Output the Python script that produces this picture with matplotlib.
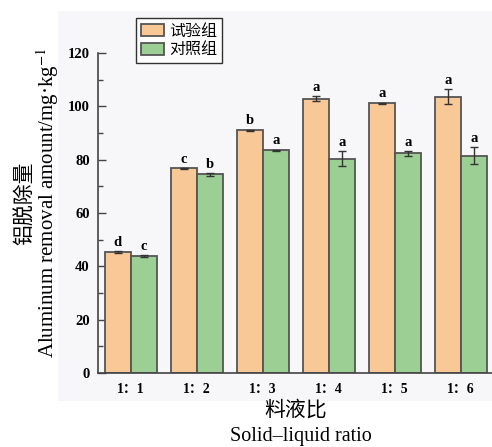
import matplotlib
matplotlib.use("Agg")
import matplotlib.pyplot as plt
from matplotlib.patches import Rectangle, Patch
import numpy as np

plt.rcParams['mathtext.fontset'] = 'stix'

categories = ["1：1", "1：2", "1：3", "1：4", "1：5", "1：6"]
exp_vals = [45.5, 76.7, 91.1, 102.9, 101.1, 103.6]
exp_err = [0.4, 0.3, 0.2, 1.0, 0.3, 2.9]
ctrl_vals = [43.9, 74.5, 83.5, 80.4, 82.4, 81.5]
ctrl_err = [0.3, 0.6, 0.3, 2.9, 0.9, 3.2]
exp_letters = ["d", "c", "b", "a", "a", "a"]
ctrl_letters = ["c", "b", "a", "a", "a", "a"]
legend_labels = ["试验组", "对照组"]

W, H = 492, 447
fig = plt.figure(figsize=(W / 100, H / 100), dpi=100)
fig.patch.set_facecolor("white")
fig.patches.append(Rectangle((58 / W, 1 - 401 / H), 1 - 58 / W, (401 - 11) / H,
                             transform=fig.transFigure, facecolor="#f7f7f9",
                             edgecolor="none", zorder=-5))

ax_l, ax_r = 98 / W, 1.0
ax_b = (H - 373) / H
ax_t = (H - 26.3) / H
ax = fig.add_axes([ax_l, ax_b, ax_r - ax_l, ax_t - ax_b])
ax.set_facecolor("none")
ax.set_zorder(1)

orange = "#f8c896"
green = "#9ccf94"
edge = "#555555"
x = np.arange(len(categories))
w = 0.4
ekw = dict(ecolor="#333333", elinewidth=1.0, capthick=1.0)
ax.bar(x - w / 2, exp_vals, w, yerr=exp_err, capsize=3, color=orange,
       edgecolor=edge, linewidth=1.3, error_kw=ekw, zorder=2)
ax.bar(x + w / 2, ctrl_vals, w, yerr=ctrl_err, capsize=3, color=green,
       edgecolor=edge, linewidth=1.3, error_kw=ekw, zorder=2)

lfont = dict(family="Liberation Serif", weight="bold", fontsize=10.5)
for i in range(len(categories)):
    ax.annotate(exp_letters[i], (x[i] - w / 2, exp_vals[i] + exp_err[i]),
                xytext=(0, 1.5), textcoords="offset points", ha="center",
                va="bottom", **lfont)
    ax.annotate(ctrl_letters[i], (x[i] + w / 2, ctrl_vals[i] + ctrl_err[i]),
                xytext=(0, 1.5), textcoords="offset points", ha="center",
                va="bottom", **lfont)

ax.set_xlim(-0.5, 5.47)
ax.set_ylim(0, 130)
ax.set_yticks(np.arange(0, 121, 20))
ax.set_yticks(np.arange(10, 120, 20), minor=True)
ax.set_xticks(x)
ax.set_xticklabels(categories)
ax.spines["top"].set_visible(False)
ax.spines["right"].set_visible(False)
for s in ("left", "bottom"):
    ax.spines[s].set_color("#444444")
    ax.spines[s].set_linewidth(1.2)
ax.spines["left"].set_bounds(0, 120)
ax.tick_params(axis="y", which="major", direction="in", length=6, width=1.0,
               color="#444444", pad=6)
ax.tick_params(axis="y", which="minor", direction="in", length=3.5, width=1.0,
               color="#444444")
ax.tick_params(axis="x", length=0, pad=7)
for lab in ax.get_yticklabels():
    lab.set_fontfamily("Liberation Serif")
    lab.set_fontweight("bold")
    lab.set_fontsize(10.5)
for lab in ax.get_xticklabels():
    lab.set_fontfamily(["Liberation Serif", "Noto Sans CJK SC"])
    lab.set_fontweight("bold")
    lab.set_fontsize(10)

handles = [Patch(facecolor=orange, edgecolor=edge, linewidth=1.3),
           Patch(facecolor=green, edgecolor=edge, linewidth=1.3)]
leg = fig.legend(handles, legend_labels, loc="upper left",
                 bbox_to_anchor=(136 / W, 1 - 18 / H), borderaxespad=0,
                 fancybox=False, frameon=True, handlelength=1.45,
                 handleheight=0.8, handletextpad=0.35, labelspacing=0.1,
                 borderpad=0.3, prop=dict(family="Noto Sans CJK SC", size=11.5))
leg.get_frame().set_edgecolor("black")
leg.get_frame().set_linewidth(1.0)
leg.get_frame().set_facecolor("white")
leg.set_zorder(5)

fig.text(25 / W, 1 - 203 / H, "铝脱除量", rotation=90, ha="center",
         va="center", family="Noto Sans CJK SC", fontsize=15)
fig.text(48 / W, 1 - 203 / H, "Aluminum removal amount/mg·kg$^{-1}$",
         rotation=90, ha="center", va="center", family="Liberation Serif",
         fontsize=15)
fig.text(296 / W, 1 - 410 / H, "料液比", ha="center", va="center",
         family="Noto Sans CJK SC", fontsize=15)
fig.text(301 / W, 1 - 437 / H, "Solid–liquid ratio", ha="center",
         va="center", family="Liberation Serif", fontsize=14.5)

fig.savefig("out.png", dpi=100)
